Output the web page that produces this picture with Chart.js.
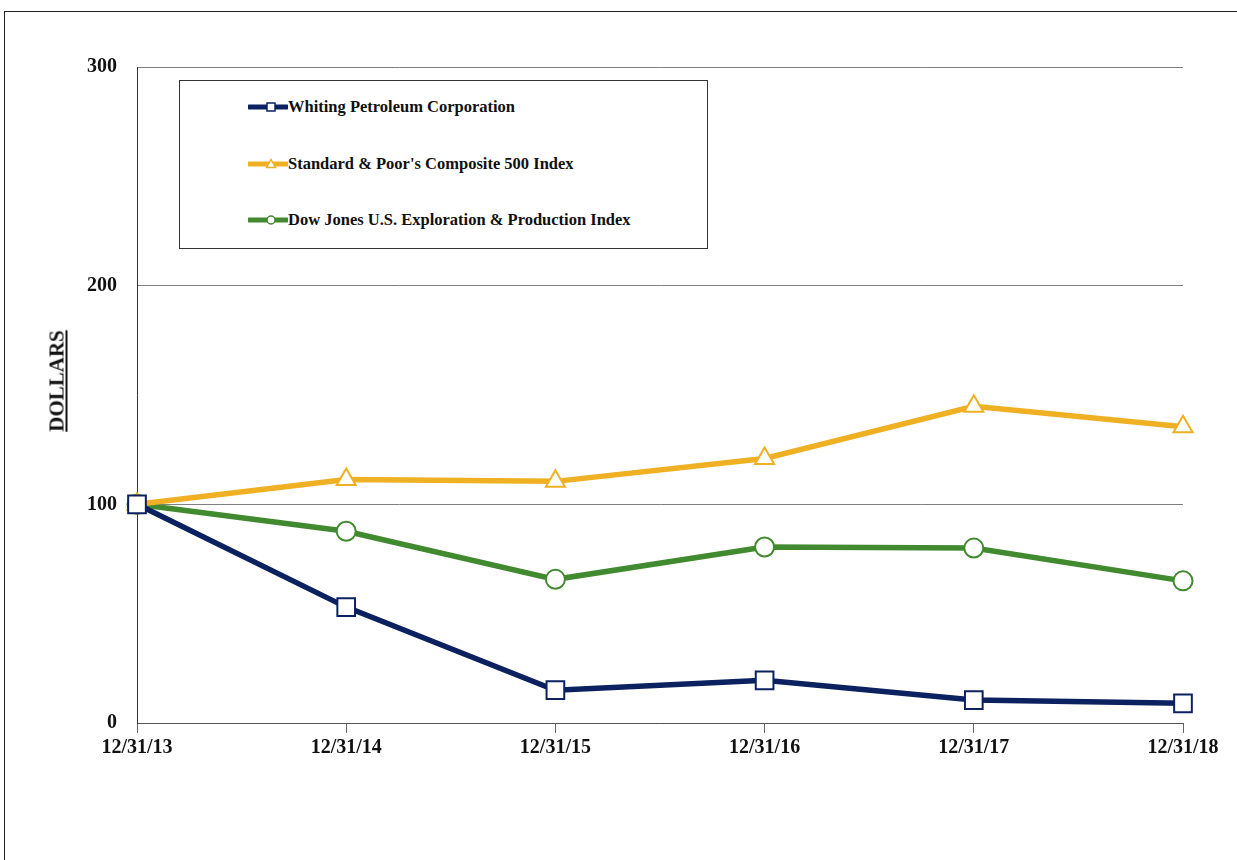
<!DOCTYPE html>
<html>
<head>
<meta charset="utf-8">
<script src="https://cdn.jsdelivr.net/npm/chart.js@4"></script>
<style>
  body { margin: 0; background: #fff; }
  #wrap { position: relative; width: 1237px; height: 860px; overflow: hidden; }
  #frame { position: absolute; left: 4px; top: 11px; width: 1300px; height: 900px; border-left: 1px solid #222; border-top: 1px solid #222; }
  #graph { position: absolute; left: 0; top: 0; }
  #ytitle { position: absolute; left: 57px; top: 381px; transform: translate(-50%, -50%) rotate(-90deg);
    font: bold 21px "Liberation Serif", serif; text-decoration: underline; color: #111; white-space: nowrap; }
  #legend { position: absolute; left: 179px; top: 80px; width: 527px; height: 167px; border: 1px solid #333; background: #fff;
    font: bold 16.5px "Liberation Serif", serif; color: #111; }
  .item { position: absolute; left: 68px; display: flex; align-items: center; white-space: nowrap; }
  .item svg { margin-right: 0px; }
</style>
</head>
<body>
<div id="wrap">
  <div id="frame"></div>
  <canvas id="graph" width="1237" height="860"></canvas>
  <div id="ytitle">DOLLARS</div>
  <div id="legend"></div>
</div>
<script>
const categorias = ['12/31/13', '12/31/14', '12/31/15', '12/31/16', '12/31/17', '12/31/18'];
const whiting = [100, 53, 15, 19.5, 10.5, 9];
const sp500 = [100, 111.3, 110.5, 121, 144.8, 135.5];
const dowJones = [100, 87.7, 65.7, 80.5, 80, 65];
const nomes = ['Whiting Petroleum Corporation', "Standard & Poor's Composite 500 Index", 'Dow Jones U.S. Exploration & Production Index'];
const cores = ['#0B2160', '#F0B024', '#428A30'];
const estilos = ['rect', 'triangle', 'circle'];
const raios = [12.5, 11, 9.5];
const yTicks = [0, 100, 200, 300];

const series = [whiting, sp500, dowJones];

const datasets = series.map((valores, i) => ({
    label: nomes[i],
    data: valores,
    borderColor: cores[i],
    backgroundColor: '#fff',
    borderWidth: 5.5,
    pointStyle: estilos[i],
    pointRadius: raios[i],
    pointBorderWidth: 2,
    pointBackgroundColor: '#fff',
    pointBorderColor: cores[i],
    tension: 0
}));

const fonte = { family: '"Liberation Serif", serif', weight: 'bold', size: 20 };

new Chart(document.getElementById('graph'), {
    type: 'line',
    data: { labels: categorias, datasets: datasets },
    options: {
        responsive: false,
        animation: false,
        layout: { padding: { left: 0, top: 67, right: 54, bottom: 0 } },
        plugins: { legend: { display: false }, tooltip: { enabled: false } },
        scales: {
            x: {
                offset: false,
                grid: { drawOnChartArea: false, drawTicks: true, tickLength: 10, color: '#666' },
                border: { color: '#555', width: 1 },
                ticks: { color: '#111', font: fonte, padding: 3, maxRotation: 0 },
                afterFit: (s) => { s.height = 137; }
            },
            y: {
                min: 0,
                max: 300,
                afterBuildTicks: (s) => { s.ticks = yTicks.map(v => ({ value: v })); },
                grid: { color: '#808080', drawTicks: false },
                border: { color: '#333', width: 1 },
                ticks: { color: '#111', font: fonte, padding: 20 },
                afterFit: (s) => { s.width = 137; }
            }
        }
    }
});

// legenda em HTML
const svgs = [
    '<rect x="19" y="2" width="8" height="8" fill="#fff" stroke="COR" stroke-width="1.5"/>',
    '<polygon points="23,1.5 27.5,9.5 18.5,9.5" fill="#fff" stroke="COR" stroke-width="1.5"/>',
    '<circle cx="23" cy="6" r="4" fill="#fff" stroke="COR" stroke-width="1.5"/>'
];
const legenda = document.getElementById('legend');
nomes.forEach((nome, i) => {
    const d = document.createElement('div');
    d.className = 'item';
    d.style.top = (16 + i * 56.5) + 'px';
    d.innerHTML = '<svg width="40" height="12"><line x1="1" y1="6" x2="39" y2="6" stroke="' + cores[i] +
        '" stroke-width="5" stroke-linecap="round"/>' + svgs[i].replace('COR', cores[i]) + '</svg><span>' + nome + '</span>';
    legenda.appendChild(d);
});
</script>
</body>
</html>
